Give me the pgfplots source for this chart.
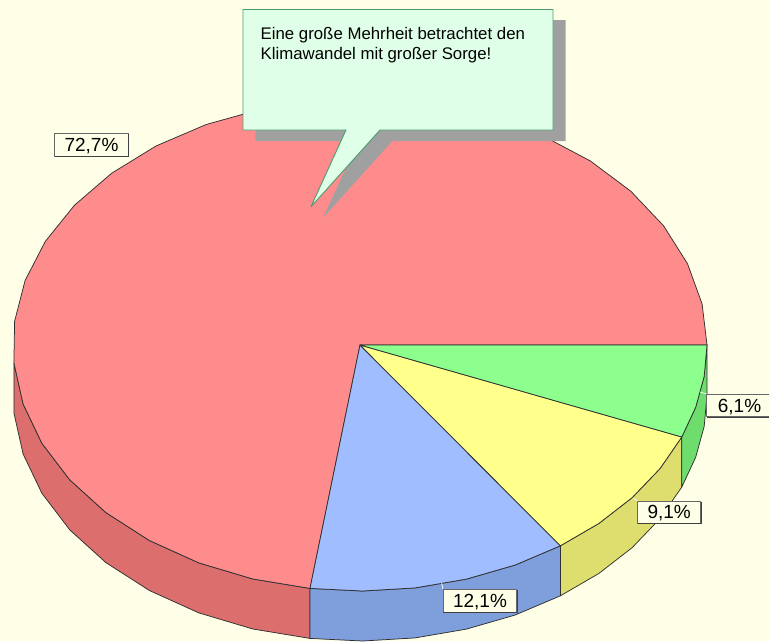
\documentclass[border=0pt]{standalone}
\usepackage{pgfplots}
\pgfplotsset{compat=1.18}
\usepackage{fontspec}
\setmainfont{Liberation Sans}
\definecolor{bg}{HTML}{FFFFE8}
\definecolor{redT}{HTML}{FF8C8C}
\definecolor{redS}{HTML}{DD6E6E}
\definecolor{bluT}{HTML}{A0BEFF}
\definecolor{bluS}{HTML}{7E9EDC}
\definecolor{yelT}{HTML}{FFFF8C}
\definecolor{yelS}{HTML}{DEDE6E}
\definecolor{grnT}{HTML}{8CFF8C}
\definecolor{grnS}{HTML}{6EDD6E}
\definecolor{call}{HTML}{E0FFE8}
\definecolor{callE}{HTML}{4C9C70}
\definecolor{shad}{HTML}{A0A0A0}
\definecolor{edge}{HTML}{303030}
\begin{document}
\begin{tikzpicture}
\begin{axis}[
  scale only axis, width=769pt, height=641pt,
  xmin=0, xmax=769, ymin=0, ymax=641, y dir=reverse,
  hide axis, clip=true,
  every axis plot/.append style={no markers, line join=round},
]
% background
\addplot[fill=bg, draw=none] coordinates {(0,0)(769,0)(769,641)(0,641)} -- cycle;
% side faces (shares 72.7 / 12.1 / 9.1 / 6.1)
\addplot[fill=redS, draw=edge, line width=0.75pt] coordinates {
(310.0,588.4)(252.9,579.0)(198.9,562.9)(149.4,540.5)(105.9,512.6)(69.8,479.9)(41.9,443.3)(23.1,404.0)(13.9,362.9)
(13.9,412.9)(23.1,454.0)(41.9,493.3)(69.8,529.9)(105.9,562.6)(149.4,590.5)(198.9,612.9)(252.9,629.0)(310.0,638.4)} -- cycle;
\addplot[fill=bluS, draw=edge, line width=0.75pt] coordinates {
(560.4,545.8)(515.2,565.0)(466.4,579.1)(415.1,587.9)(362.6,591.0)(310.0,588.4)
(310.0,638.4)(362.6,641.0)(415.1,637.9)(466.4,629.1)(515.2,615.0)(560.4,595.8)} -- cycle;
\addplot[fill=yelS, draw=edge, line width=0.75pt] coordinates {
(681.8,437.0)(660.0,468.6)(632.2,497.6)(598.8,523.5)(560.4,545.8)
(560.4,595.8)(598.8,573.5)(632.2,547.6)(660.0,518.6)(681.8,487.0)} -- cycle;
\addplot[fill=grnS, draw=edge, line width=0.75pt] coordinates {
(707.0,345.0)(704.2,376.3)(695.7,407.2)(681.8,437.0)
(681.8,487.0)(695.7,457.2)(704.2,426.3)(707.0,395.0)} -- cycle;
% top faces
\addplot[fill=redT, draw=edge, line width=0.75pt] coordinates {
(360,345)(310.0,588.4)(252.9,579.0)(198.9,562.9)(149.4,540.5)(105.9,512.6)(69.8,479.9)(41.9,443.3)(23.1,404.0)(13.9,362.9)(14.6,321.3)(25.1,280.5)(45.3,241.4)(74.4,205.3)(111.7,173.2)(156.0,146.0)(206.2,124.5)(260.9,109.3)(318.3,100.8)(376.9,99.3)(435.1,104.8)(491.1,117.2)(543.4,136.1)(590.4,161.0)(630.8,191.2)(663.5,225.7)(687.5,263.7)(702.1,304.0)(707.0,345.0)} -- cycle;
\addplot[fill=bluT, draw=edge, line width=0.75pt] coordinates {
(360,345)(560.4,545.8)(515.2,565.0)(466.4,579.1)(415.1,587.9)(362.6,591.0)(310.0,588.4)} -- cycle;
\addplot[fill=yelT, draw=edge, line width=0.75pt] coordinates {
(360,345)(681.8,437.0)(660.0,468.6)(632.2,497.6)(598.8,523.5)(560.4,545.8)} -- cycle;
\addplot[fill=grnT, draw=edge, line width=0.75pt] coordinates {
(360,345)(707.0,345.0)(704.2,376.3)(695.7,407.2)(681.8,437.0)} -- cycle;
% leader lines
\addplot[draw=white, line width=0.7pt] coordinates {(700,392)(706.7,394)};
\addplot[draw=white, line width=0.7pt] coordinates {(633,498)(638,501)};
\addplot[draw=white, line width=0.7pt] coordinates {(441.7,583)(443,589.3)};
% value labels
\addplot[fill=bg, draw=black!60, line width=0.8pt] coordinates {(54.7,133)(128,133)(128,156)(54.7,156)} -- cycle;
\addplot[draw=black!75, line width=1pt] coordinates {(128.3,133.5)(128.3,156.3)(55,156.3)};
\addplot[fill=bg, draw=black!60, line width=0.8pt] coordinates {(706.7,394)(772,394)(772,416.7)(706.7,416.7)} -- cycle;
\addplot[draw=black!75, line width=1pt] coordinates {(772,417)(707,417)};
\addplot[fill=bg, draw=black!60, line width=0.8pt] coordinates {(637.7,501)(700.7,501)(700.7,523)(637.7,523)} -- cycle;
\addplot[draw=black!75, line width=1pt] coordinates {(701,501.5)(701,523.3)(638,523.3)};
\addplot[fill=bg, draw=black!60, line width=0.8pt] coordinates {(443,589.3)(516.7,589.3)(516.7,612)(443,612)} -- cycle;
\addplot[draw=black!75, line width=1pt] coordinates {(517,589.8)(517,612.3)(443.3,612.3)};
\node[anchor=base, inner sep=0pt, font=\fontsize{19}{20}\selectfont] at (axis cs:91.5,151) {72,7\%};
\node[anchor=base, inner sep=0pt, font=\fontsize{19}{20}\selectfont] at (axis cs:739.5,412) {6,1\%};
\node[anchor=base, inner sep=0pt, font=\fontsize{19}{20}\selectfont] at (axis cs:669.2,518) {9,1\%};
\node[anchor=base, inner sep=0pt, font=\fontsize{19}{20}\selectfont] at (axis cs:480,607) {12,1\%};
% callout
\addplot[fill=shad, draw=none] coordinates {(255.3,20)(565.7,20)(565.7,141)(392.3,141)(323.3,217.5)(358.3,141)(255.3,141)} -- cycle;
\addplot[fill=call, draw=callE, line width=0.9pt] coordinates {(243,9.5)(553,9.5)(553,130)(380,130)(311,206.7)(346,130)(243,130)} -- cycle;
\node[anchor=base west, inner sep=0pt, font=\fontsize{16.8}{20}\selectfont] at (axis cs:260.5,39) {Eine große Mehrheit betrachtet den};
\node[anchor=base west, inner sep=0pt, font=\fontsize{16.8}{20}\selectfont] at (axis cs:260.5,59) {Klimawandel mit großer Sorge!};
\end{axis}
\end{tikzpicture}
\end{document}
